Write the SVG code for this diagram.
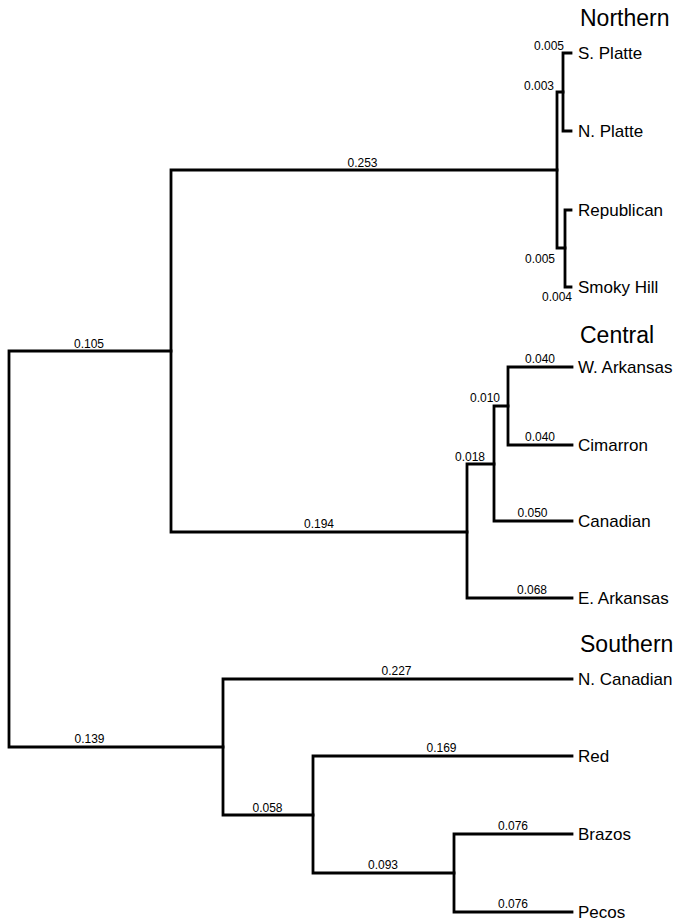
<svg xmlns="http://www.w3.org/2000/svg" width="679" height="921" viewBox="0 0 679 921">
<style>
.br{fill:none;stroke:#000;stroke-width:2.8;stroke-linejoin:miter;stroke-linecap:square}
.bl{font-family:"Liberation Sans",Arial,Helvetica,sans-serif;font-size:12px;fill:#000;text-anchor:middle}
.bl.e{text-anchor:end}
.lf{font-family:"Liberation Sans",Arial,Helvetica,sans-serif;font-size:17px;fill:#000}
.cl{font-family:"Liberation Sans",Arial,Helvetica,sans-serif;font-size:23px;fill:#000}
</style>
<rect width="679" height="921" fill="#fff"/>
<g id="connectors">
<path class="br" d="M171,351 H9 V747 H223"/>
<path class="br" d="M557,170 H171 V532 H467"/>
<path class="br" d="M563,92 H557 V248 H565"/>
<path class="br" d="M571,53 H563 V131 H571"/>
<path class="br" d="M571,210 H565 V287 H571"/>
<path class="br" d="M494,464 H467 V598 H572"/>
<path class="br" d="M508,406 H494 V521 H572"/>
<path class="br" d="M572,367 H508 V445 H572"/>
<path class="br" d="M572,679 H223 V815 H313"/>
<path class="br" d="M572,756 H313 V873 H454"/>
<path class="br" d="M572,834 H454 V912 H572"/>
</g>
<g id="branch-labels">
<text class="bl" x="89" y="348">0.105</text>
<text class="bl" x="89.5" y="743">0.139</text>
<text class="bl" x="362.5" y="167">0.253</text>
<text class="bl" x="319" y="528">0.194</text>
<text class="bl e" x="564" y="50">0.005</text>
<text class="bl e" x="554" y="90">0.003</text>
<text class="bl e" x="555" y="263">0.005</text>
<text class="bl e" x="572" y="301">0.004</text>
<text class="bl" x="540" y="363">0.040</text>
<text class="bl" x="540" y="441">0.040</text>
<text class="bl" x="485" y="402">0.010</text>
<text class="bl" x="470" y="461">0.018</text>
<text class="bl" x="532.5" y="517">0.050</text>
<text class="bl" x="532" y="594">0.068</text>
<text class="bl" x="396.5" y="675">0.227</text>
<text class="bl" x="441.5" y="752">0.169</text>
<text class="bl" x="267.5" y="812">0.058</text>
<text class="bl" x="383" y="869">0.093</text>
<text class="bl" x="513" y="830">0.076</text>
<text class="bl" x="513" y="908">0.076</text>
</g>
<g id="cluster-northern"><text class="cl" x="580" y="26">Northern</text></g>
<g id="cluster-central"><text class="cl" x="580" y="343">Central</text></g>
<g id="cluster-southern"><text class="cl" x="580" y="652">Southern</text></g>
<g id="leaf-s-platte"><text class="lf" x="578" y="59">S. Platte</text></g>
<g id="leaf-n-platte"><text class="lf" x="578" y="137">N. Platte</text></g>
<g id="leaf-republican"><text class="lf" x="578" y="216">Republican</text></g>
<g id="leaf-smoky-hill"><text class="lf" x="578" y="293">Smoky Hill</text></g>
<g id="leaf-w-arkansas"><text class="lf" x="578" y="373">W. Arkansas</text></g>
<g id="leaf-cimarron"><text class="lf" x="578" y="451">Cimarron</text></g>
<g id="leaf-canadian"><text class="lf" x="578" y="527">Canadian</text></g>
<g id="leaf-e-arkansas"><text class="lf" x="578" y="604">E. Arkansas</text></g>
<g id="leaf-n-canadian"><text class="lf" x="578" y="685">N. Canadian</text></g>
<g id="leaf-red"><text class="lf" x="578" y="762">Red</text></g>
<g id="leaf-brazos"><text class="lf" x="578" y="840">Brazos</text></g>
<g id="leaf-pecos"><text class="lf" x="578" y="918">Pecos</text></g>
</svg>
